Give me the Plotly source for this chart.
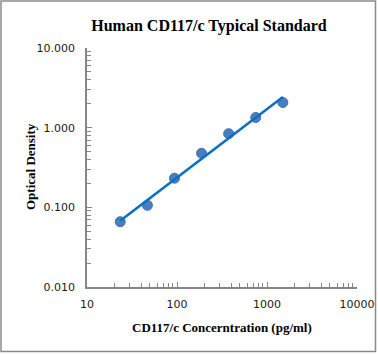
import numpy as np
import plotly.graph_objects as go

concentration = [23.4, 46.9, 93.75, 187.5, 375, 750, 1500]
optical_density = [0.066, 0.106, 0.232, 0.477, 0.84, 1.34, 2.07]
x_tick_vals = [10, 100, 1000, 10000]
x_tick_text = ["10", "100", "1000", "10000"]
y_tick_vals = [0.01, 0.1, 1, 10]
y_tick_text = ["0.010", "0.100", "1.000", "10.000"]

# power trendline (fit in log-log space)
b, loga = np.polyfit(np.log10(concentration), np.log10(optical_density), 1)
fit_x = [min(concentration), max(concentration)]
fit_y = [10 ** loga * xv ** b for xv in fit_x]

x_minor = [m * 10 ** d for d in range(1, 4) for m in range(2, 10)]
y_minor = [m * 10.0 ** d for d in range(-2, 1) for m in range(2, 10)]

W, H = 378, 355
ml, mr, mt, mb = 87, 21, 48, 68

fig = go.Figure()
fig.add_trace(go.Scatter(
    x=concentration, y=optical_density, mode="markers",
    marker=dict(size=10, color="#4a7ebf", line=dict(width=1, color="#3f6fb0")),
    showlegend=False, hoverinfo="x+y"))
fig.add_trace(go.Scatter(
    x=fit_x, y=fit_y, mode="lines",
    line=dict(color="#0a70c4", width=2.6),
    showlegend=False, hoverinfo="skip"))

axis_color = "#868686"
tick_font = dict(family="DejaVu Sans, sans-serif", size=11, color="#1a1a1a")
serif = "Liberation Serif, Times New Roman, serif"

fig.update_layout(
    width=W, height=H,
    margin=dict(l=ml, r=mr, t=mt, b=mb, autoexpand=False),
    paper_bgcolor="white", plot_bgcolor="white",
    xaxis=dict(
        type="log", range=[1, 4],
        tickmode="array", tickvals=x_tick_vals, ticktext=x_tick_text,
        ticks="inside", ticklen=5, tickcolor=axis_color, tickwidth=1,
        minor=dict(tickmode="array", tickvals=x_minor, ticks="inside", ticklen=4,
                   tickcolor=axis_color, showgrid=False),
        showline=True, linecolor=axis_color, linewidth=1.5,
        showgrid=False, zeroline=False, tickfont=tick_font, ticklabelstandoff=6,
    ),
    yaxis=dict(
        type="log", range=[-2, 1],
        tickmode="array", tickvals=y_tick_vals, ticktext=y_tick_text,
        ticks="inside", ticklen=5, tickcolor=axis_color, tickwidth=1,
        minor=dict(tickmode="array", tickvals=y_minor, ticks="inside", ticklen=4,
                   tickcolor=axis_color, showgrid=False),
        showline=True, linecolor=axis_color, linewidth=1.5,
        showgrid=False, zeroline=False, tickfont=tick_font, ticklabelstandoff=8,
    ),
    title=dict(
        text="<b>Human CD117/c Typical Standard</b>",
        x=209 / W, xref="container", xanchor="center",
        y=1 - 25 / H, yref="container", yanchor="middle",
        font=dict(family=serif, size=16, color="black"),
    ),
    annotations=[
        dict(text="<b>CD117/c Concerntration (pg/ml)</b>", xref="paper", yref="paper",
             x=(222 - ml) / (W - ml - mr), y=-(327 - (H - mb)) / (H - mt - mb),
             xanchor="center", yanchor="middle", showarrow=False,
             font=dict(family=serif, size=13, color="black")),
        dict(text="<b>Optical Density</b>", xref="paper", yref="paper",
             x=-(ml - 30) / (W - ml - mr), y=1 - (167 - mt) / (H - mt - mb),
             xanchor="center", yanchor="middle", textangle=-90, showarrow=False,
             font=dict(family=serif, size=13, color="black")),
    ],
    shapes=[
        dict(type="rect", xref="paper", yref="paper",
             x0=-(ml - 1) / (W - ml - mr), x1=1 + (375.5 - (W - mr)) / (W - ml - mr),
             y0=-(351.5 - (H - mb)) / (H - mt - mb), y1=1 + (mt - 1) / (H - mt - mb),
             line=dict(color="#8a8a8a", width=1.5), layer="below"),
    ],
)

fig.write_html("out.html", config={"displayModeBar": False},
               post_script="document.body.style.margin='0';")
